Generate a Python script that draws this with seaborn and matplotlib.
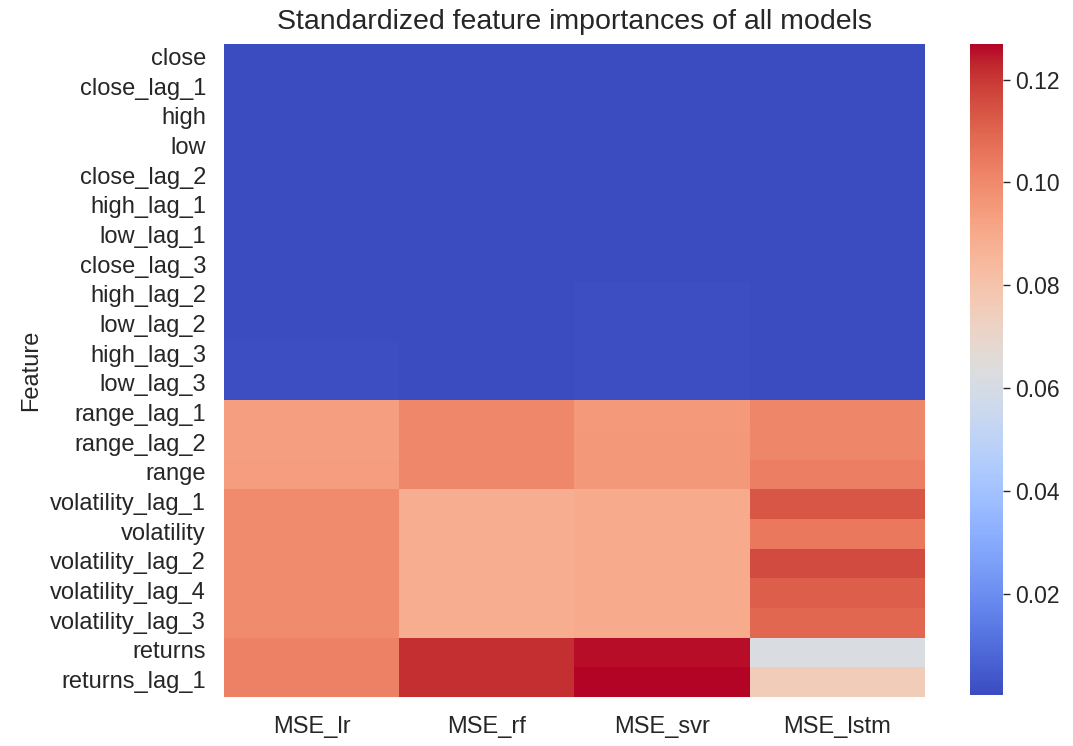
import numpy as np
import pandas as pd
import matplotlib
matplotlib.use("Agg")
import matplotlib.pyplot as plt
import seaborn as sns

features = [
    "close", "close_lag_1", "high", "low", "close_lag_2", "high_lag_1",
    "low_lag_1", "close_lag_3", "high_lag_2", "low_lag_2", "high_lag_3",
    "low_lag_3", "range_lag_1", "range_lag_2", "range", "volatility_lag_1",
    "volatility", "volatility_lag_2", "volatility_lag_4", "volatility_lag_3",
    "returns", "returns_lag_1",
]
models = ["MSE_lr", "MSE_rf", "MSE_svr", "MSE_lstm"]

mse_lr = [0.0004, 0.0004, 0.0004, 0.0004, 0.0004, 0.0004, 0.0004, 0.0004,
          0.0005, 0.0005, 0.0012, 0.0012, 0.0935, 0.0935, 0.0940, 0.0995,
          0.0995, 0.0995, 0.0995, 0.0995, 0.1025, 0.1025]
mse_rf = [0.0003, 0.0003, 0.0003, 0.0003, 0.0003, 0.0003, 0.0003, 0.0003,
          0.0003, 0.0003, 0.0003, 0.0003, 0.1005, 0.1005, 0.1005, 0.0885,
          0.0885, 0.0885, 0.0885, 0.0885, 0.1215, 0.1215]
mse_svr = [0.0005, 0.0005, 0.0005, 0.0005, 0.0005, 0.0005, 0.0005, 0.0005,
           0.0012, 0.0012, 0.0012, 0.0012, 0.0950, 0.0955, 0.0955, 0.0895,
           0.0895, 0.0895, 0.0895, 0.0895, 0.1260, 0.1270]
mse_lstm = [0.0004, 0.0004, 0.0004, 0.0004, 0.0004, 0.0004, 0.0004, 0.0004,
            0.0004, 0.0004, 0.0004, 0.0004, 0.1010, 0.1010, 0.1030, 0.1135,
            0.1050, 0.1160, 0.1115, 0.1095, 0.0620, 0.0760]

df = pd.DataFrame({"MSE_lr": mse_lr, "MSE_rf": mse_rf,
                   "MSE_svr": mse_svr, "MSE_lstm": mse_lstm}, index=features)
df = df[models]
df.index.name = "Feature"

sns.set_style("white")
plt.rcParams["font.family"] = ["Liberation Sans", "DejaVu Sans"]
plt.rcParams["text.color"] = ".15"
plt.rcParams["axes.labelcolor"] = ".15"
plt.rcParams["xtick.color"] = ".15"
plt.rcParams["ytick.color"] = ".15"

fig = plt.figure(figsize=(10.73, 7.46), dpi=100)
ax = fig.add_axes([0.2088, 0.0657, 0.653, 0.875])
cax = fig.add_axes([0.904, 0.0685, 0.031, 0.873])

sns.heatmap(df, cmap="coolwarm", ax=ax, cbar_ax=cax)

ax.set_title("Standardized feature importances of all models", fontsize=20.5, pad=11)
ax.set_ylabel("Feature", fontsize=17, labelpad=6)
ax.set_xlabel("")
ax.tick_params(axis="x", length=0, labelsize=17, pad=14)
ax.tick_params(axis="y", length=0, labelsize=17, pad=13)
plt.setp(ax.get_yticklabels(), rotation=0)
cax.tick_params(labelsize=16.5, length=5, width=1, right=True, color=".15")
cax.set_yticks([0.02, 0.04, 0.06, 0.08, 0.10, 0.12])
cax.set_yticklabels(["0.02", "0.04", "0.06", "0.08", "0.10", "0.12"])

fig.savefig("out.png", dpi=100)
